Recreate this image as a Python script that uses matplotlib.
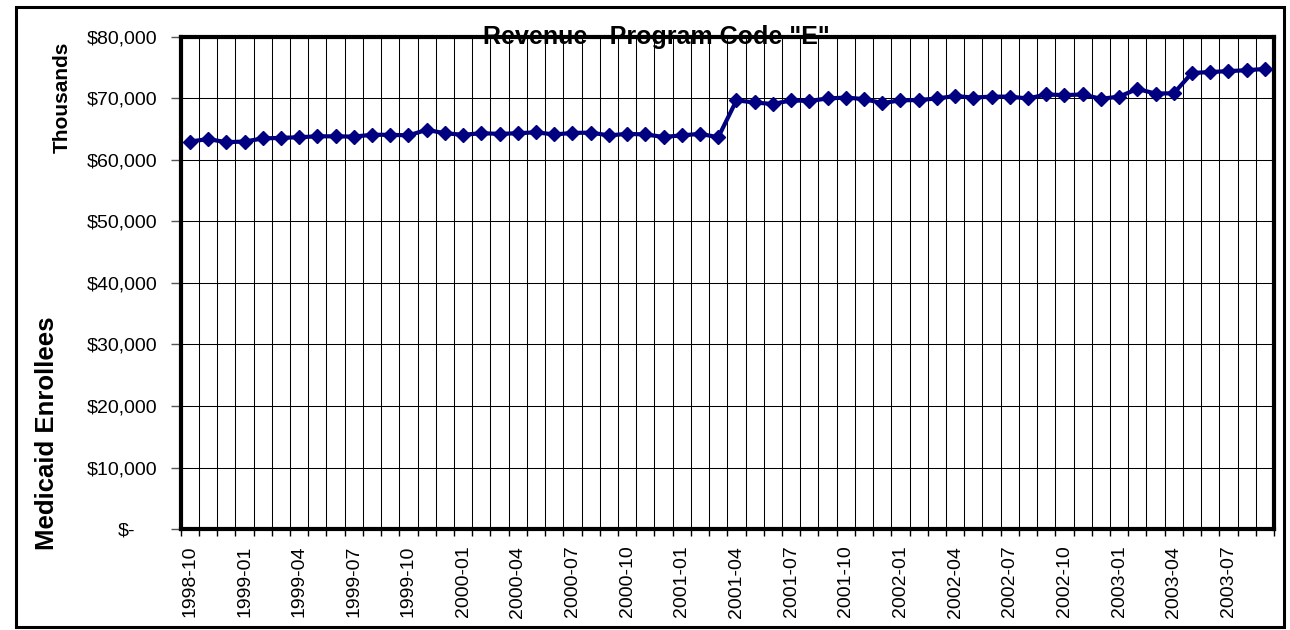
# -*- coding: utf-8 -*-
"""
    Revenue - Program Code "E" : courbe mensuelle 1998-10 a 2003-09
"""

#========== IMPORT ==========#

import matplotlib
matplotlib.use("Agg")
import matplotlib.pyplot as plt
from matplotlib.patches import Rectangle
from matplotlib.transforms import ScaledTranslation
import pandas as pd

#========== DONNEES ==========#

MOIS = list(pd.period_range("1998-10", periods=60, freq="M").strftime("%Y-%m"))

REVENU = [
    63000, 63400, 62900, 63000, 63500, 63600, 63700, 63850, 63850, 63800,
    64100, 64100, 64000, 64900, 64350, 64100, 64350, 64250, 64350, 64500,
    64150, 64400, 64450, 64000, 64250, 64150, 63750, 64000, 64250, 63700,
    69700, 69350, 69100, 69700, 69600, 70000, 70150, 69900, 69250, 69700,
    69750, 70000, 70400, 70150, 70300, 70300, 70000, 70650, 70550, 70650,
    69950, 70300, 71550, 70800, 70850, 74150, 74300, 74450, 74600, 74800,
]

Y_TICKS = [0, 10000, 20000, 30000, 40000, 50000, 60000, 70000, 80000]
Y_LABELS = ["$-", "$10,000", "$20,000", "$30,000", "$40,000",
            "$50,000", "$60,000", "$70,000", "$80,000"]

TITRE = 'Revenue - Program Code "E"'

#========== FIGURE ==========#

plt.rcParams["font.family"] = ["Liberation Sans", "DejaVu Sans"]

fig = plt.figure(figsize=(12.9, 6.3), dpi=100)
ax = fig.add_axes([0.1401, 0.1603, 0.8475, 0.781])

x = list(range(len(MOIS)))
ax.plot(x, REVENU, color="#000080", lw=3, marker="D", ms=7.5,
        mec="#000080", mfc="#000080", zorder=5, clip_on=False)

ax.set_xlim(-0.5, len(MOIS) - 0.5)
ax.set_ylim(0, 80000)

# graduations : traits aux frontieres, etiquettes au centre des categories
limites = [i - 0.5 for i in range(len(MOIS) + 1)]
ax.set_xticks(limites)
ax.set_xticklabels([])
ax.tick_params(axis="x", which="major", direction="out", length=5,
               width=1, color="black")
ax.set_xticks(x[::3], minor=True)
ax.set_xticklabels(MOIS[::3], minor=True, rotation=90, fontsize=14)
ax.tick_params(axis="x", which="minor", length=0, pad=12)

ax.set_yticks(Y_TICKS)
ax.set_yticklabels(Y_LABELS, fontsize=14)
ax.tick_params(axis="y", direction="out", length=7, width=1,
               color="#555555", pad=10)

# "$-" decale comme le format comptable d'Excel
etiq_zero = ax.get_yticklabels()[0]
etiq_zero.set_transform(etiq_zero.get_transform() +
                        ScaledTranslation(-0.22, 0, fig.dpi_scale_trans))

ax.grid(True, which="major", axis="both", color="black", lw=0.75)
ax.set_axisbelow(True)

for spine in ax.spines.values():
    spine.set_linewidth(3)
    spine.set_color("black")

fig.text(656 / 1290, 1 - 37 / 630, TITRE, ha="center", va="center",
         fontsize=18, fontweight="bold", zorder=10)
fig.text(62 / 1290, 1 - 97 / 630, "Thousands", ha="center", va="center",
         rotation=90, fontsize=15, fontweight="bold")
fig.text(47 / 1290, 1 - 433 / 630, "Medicaid Enrollees", ha="center",
         va="center", rotation=90, fontsize=18.5, fontweight="bold")

# cadre exterieur
fig.patches.append(Rectangle((16 / 1290, 3 / 630), 1268 / 1290, 620 / 630,
                             transform=fig.transFigure, fill=False,
                             lw=2.2, ec="black"))

fig.savefig("out.png", dpi=100)
